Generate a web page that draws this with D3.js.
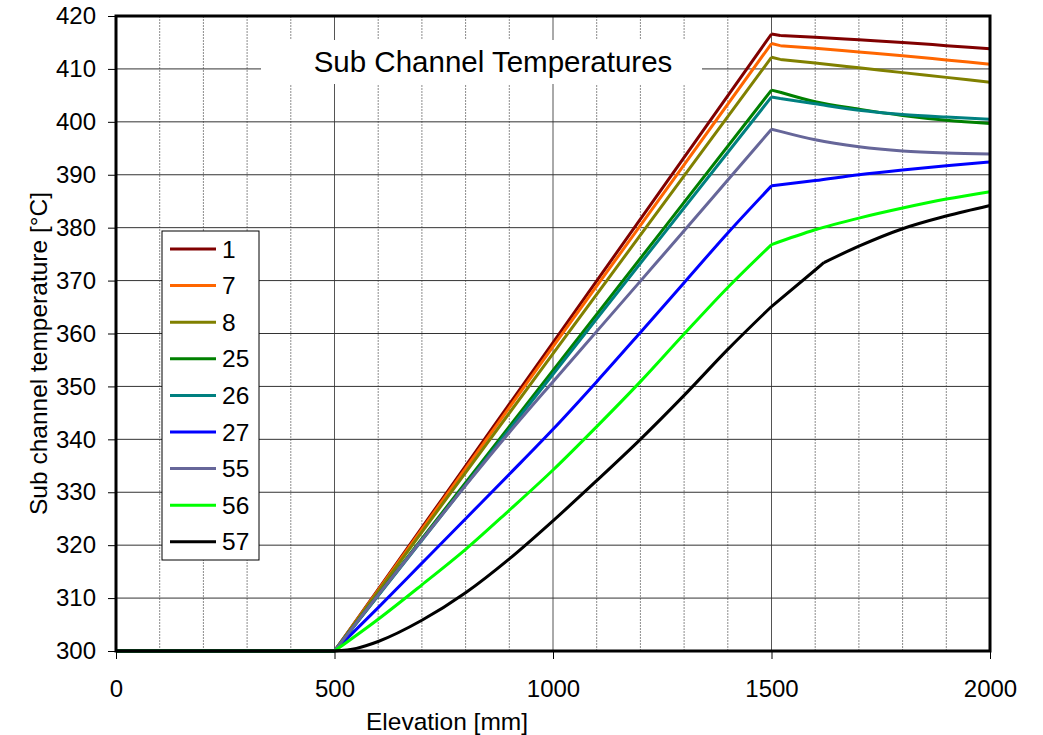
<!DOCTYPE html>
<html>
<head>
<meta charset="utf-8">
<script src="https://cdn.jsdelivr.net/npm/d3@7"></script>
<style>
  body { margin: 0; background: #fff; }
  svg { display: block; font-family: "Liberation Sans", Arial, sans-serif; }
</style>
</head>
<body>
<svg id="chart" width="1043" height="735"></svg>
<script>
// sub channel ids shown in the legend
const channels = ["1", "7", "8", "25", "26", "27", "55", "56", "57"];
const colors = ["#800000", "#ff6600", "#808000", "#008000", "#008080", "#0000ff", "#666699", "#00ff00", "#000000"];

// [elevation mm, temperature °C]
const s1 = [[0,300],[500,300],[1000,358.3],[1500,416.6],[1520,416.3],[1600,416.0],[1700,415.5],[1800,415.0],[1900,414.4],[2000,413.8]];
const s7 = [[0,300],[500,300],[1000,357.5],[1500,414.8],[1520,414.4],[1600,413.9],[1700,413.2],[1800,412.5],[1900,411.7],[2000,410.9]];
const s8 = [[0,300],[500,300],[1000,356.2],[1500,412.2],[1520,411.8],[1600,411.1],[1700,410.2],[1800,409.3],[1900,408.4],[2000,407.5]];
const s25 = [[0,300],[500,300],[1000,353.0],[1500,406.0],[1520,405.6],[1600,403.8],[1700,402.4],[1800,401.2],[1900,400.3],[2000,399.7]];
const s26 = [[0,300],[500,300],[1000,352.3],[1500,404.7],[1520,404.4],[1600,403.4],[1700,402.2],[1800,401.4],[1900,400.9],[2000,400.5]];
const s27 = [[0,300],[500,300],[600,308.2],[700,316.6],[800,325.0],[900,333.4],[1000,341.9],[1100,350.9],[1200,360.2],[1300,369.6],[1400,379.0],[1500,387.9],[1600,388.9],[1700,390.0],[1800,390.9],[1900,391.7],[2000,392.4]];
const s55 = [[0,300],[500,300],[600,310.6],[700,321.0],[800,331.3],[900,341.3],[1000,350.9],[1100,360.4],[1200,369.9],[1300,379.4],[1400,389.0],[1500,398.6],[1520,398.2],[1600,396.6],[1700,395.3],[1800,394.5],[1900,394.1],[2000,393.9]];
const s56 = [[0,300],[500,300],[600,306.0],[700,312.5],[800,319.2],[900,326.6],[1000,334.2],[1100,342.4],[1200,350.9],[1300,359.9],[1400,368.7],[1500,376.8],[1600,379.6],[1700,381.8],[1800,383.7],[1900,385.4],[2000,386.8]];
const s57 = [[0,300],[500,300],[550,300.5],[600,301.8],[700,305.8],[800,311.0],[900,317.4],[1000,324.6],[1100,332.2],[1200,340.0],[1300,348.3],[1400,357.0],[1500,365.1],[1600,372.0],[1620,373.4],[1700,376.5],[1800,379.8],[1900,382.2],[2000,384.2]];

const series = [s1, s7, s8, s25, s26, s27, s55, s56, s57];

// elevations where the curves have a sharp bend
const bends = [500, 1500, 1520, 1620];

const xTicks = [0, 500, 1000, 1500, 2000];
const yTicks = d3.range(300, 421, 10);

const svg = d3.select("#chart");
const plotLeft = 116, plotRight = 990, plotTop = 16, plotBottom = 651;

const x = d3.scaleLinear().domain([0, 2000]).range([plotLeft, plotRight]);
const y = d3.scaleLinear().domain([300, 420]).range([plotBottom, plotTop]);

// grid
const grid = svg.append("g");
grid.selectAll("line.vminor")
    .data(d3.range(100, 2000, 100).filter(d => d % 500 !== 0))
    .enter().append("line")
    .attr("x1", d => x(d)).attr("x2", d => x(d))
    .attr("y1", plotTop).attr("y2", plotBottom)
    .attr("stroke", "#8c8c8c")
    .attr("stroke-width", 1)
    .attr("stroke-dasharray", "2,1");
grid.selectAll("line.vmajor")
    .data([500, 1000, 1500])
    .enter().append("line")
    .attr("x1", d => x(d)).attr("x2", d => x(d))
    .attr("y1", plotTop).attr("y2", plotBottom)
    .attr("stroke", "#555")
    .attr("stroke-width", 1);
grid.selectAll("line.h")
    .data(yTicks.slice(1, -1))
    .enter().append("line")
    .attr("x1", plotLeft).attr("x2", plotRight)
    .attr("y1", d => y(d)).attr("y2", d => y(d))
    .attr("stroke", "#333")
    .attr("stroke-width", 1);

// title box hides the grid behind it
svg.append("rect")
    .attr("x", 261).attr("y", 40)
    .attr("width", 441).attr("height", 44)
    .attr("fill", "#fff");
svg.append("text")
    .attr("x", 493).attr("y", 72)
    .attr("text-anchor", "middle")
    .style("font-size", "29.5px")
    .text("Sub Channel Temperatures");

// lines: smooth between bends, sharp at the bends
const line = d3.line()
    .x(d => x(d[0]))
    .y(d => y(d[1]))
    .curve(d3.curveMonotoneX);

function seriesPath(pts) {
    let parts = [], cur = [];
    pts.forEach(p => {
        cur.push(p);
        if (bends.includes(p[0])) {
            parts.push(cur);
            cur = [p];
        }
    });
    if (cur.length > 1) parts.push(cur);
    return parts.filter(p => p.length > 1).map(p => line(p)).join("");
}

svg.append("g")
    .selectAll("path")
    .data(series)
    .enter().append("path")
    .attr("d", d => seriesPath(d))
    .attr("fill", "none")
    .attr("stroke", (d, i) => colors[i])
    .attr("stroke-width", 3)
    .attr("stroke-linejoin", "round");

// axes
const xAxis = svg.append("g")
    .attr("transform", `translate(0,${plotBottom})`)
    .call(d3.axisBottom(x).tickValues(xTicks).tickSize(8).tickPadding(21).tickFormat(d3.format("d")));
const yAxis = svg.append("g")
    .attr("transform", `translate(${plotLeft},0)`)
    .call(d3.axisLeft(y).tickValues(yTicks).tickSize(8).tickPadding(12).tickFormat(d3.format("d")));

[xAxis, yAxis].forEach(a => {
    a.select(".domain").remove();
    a.selectAll("line").attr("stroke", "#000");
    a.selectAll("text").attr("fill", "#000").style("font-size", "24px")
        .style("font-family", "'Liberation Sans', Arial, sans-serif");
});

// plot frame
svg.append("rect")
    .attr("x", plotLeft).attr("y", plotTop)
    .attr("width", plotRight - plotLeft).attr("height", plotBottom - plotTop)
    .attr("fill", "none")
    .attr("stroke", "#000")
    .attr("stroke-width", 3);

// axis titles
svg.append("text")
    .attr("x", 447).attr("y", 730)
    .attr("text-anchor", "middle")
    .style("font-size", "24.5px")
    .text("Elevation [mm]");
svg.append("text")
    .attr("transform", "translate(47,353.5) rotate(-90)")
    .attr("text-anchor", "middle")
    .style("font-size", "24.5px")
    .text("Sub channel temperature [°C]");

// legend
const legend = svg.append("g");
legend.append("rect")
    .attr("x", 162).attr("y", 231)
    .attr("width", 97).attr("height", 329)
    .attr("fill", "#fff")
    .attr("stroke", "#000")
    .attr("stroke-width", 1);

const item = legend.selectAll("g.item")
    .data(channels)
    .enter().append("g")
    .attr("transform", (d, i) => `translate(0,${249 + i * 36.6})`);
item.append("line")
    .attr("x1", 170).attr("x2", 216)
    .attr("stroke", (d, i) => colors[i])
    .attr("stroke-width", 3);
item.append("text")
    .attr("x", 222)
    .attr("dy", "0.35em")
    .style("font-size", "24.5px")
    .text(d => d);
</script>
</body>
</html>
